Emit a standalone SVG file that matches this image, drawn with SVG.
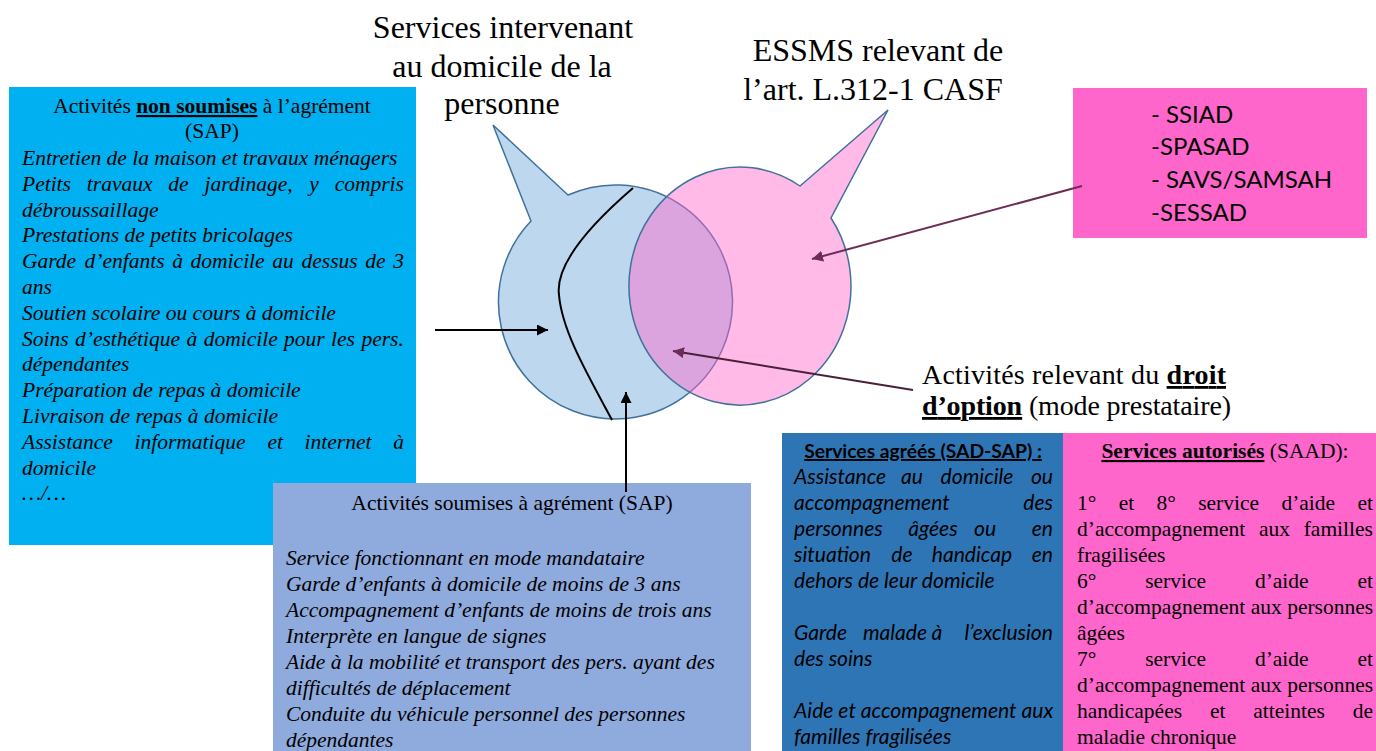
<svg xmlns="http://www.w3.org/2000/svg" width="1376" height="751" viewBox="0 0 1376 751">
<defs>
<style>
.serif{font-family:"Liberation Serif","Times New Roman",serif;fill:#000}
.it{font-style:italic}
.s21{font-size:21.5px}
.sans{font-family:Lato,"Liberation Sans",Arial,sans-serif;fill:#000}
.b{font-weight:bold}
.u{text-decoration:underline}
.end{text-anchor:end}
.mid{text-anchor:middle}
.shape{stroke:#41719C;stroke-width:1.5}
.conn{fill:none;stroke-width:2}
</style>
<marker id="ah" viewBox="0 0 10 10" refX="10" refY="5" markerWidth="11" markerHeight="11" markerUnits="userSpaceOnUse" orient="auto">
<path d="M0,0 L10,5 L0,10 z" fill="#000"/>
</marker>
<marker id="ahm" viewBox="0 0 10 10" refX="10" refY="5" markerWidth="11" markerHeight="11" markerUnits="userSpaceOnUse" orient="auto">
<path d="M0,0 L10,5 L0,10 z" fill="#6B2D55"/>
</marker>
</defs>
<rect width="1376" height="751" fill="#fff"/>

<g id="box-non-soumises">
<rect x="9" y="87" width="407" height="458" fill="#00B0F0"/>
<text class="serif s21" x="212" y="113" text-anchor="middle">Activités <tspan class="b u">non soumises</tspan> à l’agrément</text>
<text class="serif s21" x="212" y="138" text-anchor="middle">(SAP)</text>
<g class="serif s21 it">
<text x="22" y="165">Entretien de la maison et travaux ménagers</text>
<text y="190.8"><tspan x="22">Petits</tspan><tspan x="86.8">travaux</tspan><tspan x="168.3">de</tspan><tspan x="204.5">jardinage,</tspan><tspan x="309.3">y</tspan><tspan x="334.7">compris</tspan></text>
<text x="22" y="216.6">débroussaillage</text>
<text x="22" y="242.4">Prestations de petits bricolages</text>
<text y="268.2"><tspan x="22">Garde</tspan><tspan x="84.6">d’enfants</tspan><tspan x="172.2">à</tspan><tspan x="190.6">domicile</tspan><tspan x="272.3">au</tspan><tspan x="301.5">dessus</tspan><tspan x="365.3">de</tspan><tspan x="393.2">3</tspan></text>
<text x="22" y="294">ans</text>
<text x="22" y="319.8">Soutien scolaire ou cours à domicile</text>
<text y="345.6"><tspan x="22">Soins</tspan><tspan x="75">d’esthétique</tspan><tspan x="186.5">à</tspan><tspan x="203.7">domicile</tspan><tspan x="284.1">pour</tspan><tspan x="331.1">les</tspan><tspan x="361.4">pers.</tspan></text>
<text x="22" y="371.4">dépendantes</text>
<text x="22" y="397.2">Préparation de repas à domicile</text>
<text x="22" y="423">Livraison de repas à domicile</text>
<text y="448.8"><tspan x="22">Assistance</tspan><tspan x="134.5">informatique</tspan><tspan x="267.4">et</tspan><tspan x="304.6">internet</tspan><tspan x="393.3">à</tspan></text>
<text x="22" y="474.6">domicile</text>
<text x="22" y="500.4">…/…</text>
</g>
</g>

<g id="title-services">
<text class="serif" font-size="32" text-anchor="middle"><tspan x="503" y="38">Services intervenant</tspan><tspan x="502" y="77">au domicile de la</tspan><tspan x="502" y="114">personne</tspan></text>
</g>

<g id="title-essms">
<text class="serif" font-size="32" text-anchor="middle"><tspan x="878" y="61">ESSMS relevant de</tspan><tspan x="873" y="100">l’art. L.312-1 CASF</tspan></text>
</g>

<g id="venn-blue">
<path class="shape" fill="#BDD7EE" d="M568,195 L493,125 L531,221 A117,117 0 1 0 568,195 Z"/>
</g>
<g id="venn-pink">
<path class="shape" fill="#FF66CC" fill-opacity="0.45" d="M800,186 L888,110 L831,218 A111,119 0 1 1 800,186 Z"/>
</g>
<path id="divider" d="M633,188 C590,225 555,265 559,295 C562,330 585,370 612,420" fill="none" stroke="#000" stroke-width="2"/>

<g id="box-essms">
<rect x="1073" y="88" width="294" height="150" fill="#FF66CC"/>
<text class="sans" font-size="24"><tspan x="1151" y="123">- SSIAD</tspan><tspan x="1151" y="155">-SPASAD</tspan><tspan x="1151" y="188">- SAVS/SAMSAH</tspan><tspan x="1151" y="221">-SESSAD</tspan></text>
</g>

<g id="label-droit-option">
<text class="serif" font-size="28" x="922" y="384" textLength="304" lengthAdjust="spacing">Activités relevant du <tspan class="b u">droit</tspan></text>
<text class="serif" font-size="28" x="922" y="415" textLength="309" lengthAdjust="spacing"><tspan class="b u">d’option</tspan> (mode prestataire)</text>
</g>

<g id="box-soumises">
<rect x="273" y="483" width="478" height="268" fill="#8FAADC"/>
<text class="serif s21" x="512" y="510" text-anchor="middle">Activités  soumises à agrément (SAP)</text>
<g class="serif s21 it">
<text x="286" y="565">Service fonctionnant en mode mandataire</text>
<text x="286" y="591">Garde d’enfants à domicile de moins de 3 ans</text>
<text x="286" y="617">Accompagnement d’enfants de moins de trois ans</text>
<text x="286" y="643">Interprète en langue de signes</text>
<text x="286" y="669">Aide à la mobilité et transport des pers. ayant des</text>
<text x="286" y="695">difficultés de déplacement</text>
<text x="286" y="721">Conduite du véhicule personnel des personnes</text>
<text x="286" y="747">dépendantes</text>
</g>
</g>

<g id="box-agrees">
<rect x="782" y="433" width="281" height="318" fill="#2E75B6"/>
<text class="sans b u" font-size="19.3" x="923" y="458" text-anchor="middle">Services agréés (SAD-SAP) :</text>
<g class="sans it" font-size="21.1">
<text x="794" y="484">Assistance</text>
<text class="mid" x="912" y="484">au</text>
<text class="mid" x="977" y="484">domicile</text>
<text class="end" x="1053" y="484">ou</text>
<text x="794" y="510">accompagnement</text>
<text class="end" x="1053" y="510">des</text>
<text x="794" y="536">personnes</text>
<text class="mid" x="933" y="536">âgées</text>
<text class="mid" x="985" y="536">ou</text>
<text class="end" x="1053" y="536">en</text>
<text x="794" y="562">situation</text>
<text class="mid" x="902" y="562">de</text>
<text class="mid" x="972" y="562">handicap</text>
<text class="end" x="1053" y="562">en</text>
<text x="794" y="588">dehors de leur domicile</text>
<text x="794" y="640">Garde</text>
<text class="mid" x="895" y="640">malade</text>
<text class="mid" x="937" y="640">à</text>
<text class="end" x="1053" y="640">l’exclusion</text>
<text x="794" y="666">des soins</text>
<text x="794" y="718">Aide et accompagnement aux</text>
<text x="794" y="744">familles fragilisées</text>
</g>
</g>

<g id="box-autorises">
<rect x="1063" y="433" width="313" height="318" fill="#FF66CC"/>
<text class="serif s21" x="1225" y="458" text-anchor="middle"><tspan class="b u">Services autorisés</tspan> (SAAD):</text>
<g class="serif s21">
<text y="510"><tspan x="1077">1°</tspan><tspan x="1118.7">et</tspan><tspan x="1156.5">8°</tspan><tspan x="1198.2">service</tspan><tspan x="1281.4">d’aide</tspan><tspan x="1357.4">et</tspan></text>
<text y="536"><tspan x="1077">d’accompagnement</tspan><tspan x="1259">aux</tspan><tspan x="1303.7">familles</tspan></text>
<text x="1077" y="562">fragilisées</text>
<text y="588"><tspan x="1077">6°</tspan><tspan x="1145.2">service</tspan><tspan x="1254.9">d’aide</tspan><tspan x="1357.4">et</tspan></text>
<text x="1077" y="614">d’accompagnement aux personnes</text>
<text x="1077" y="640">âgées</text>
<text y="666"><tspan x="1077">7°</tspan><tspan x="1145.2">service</tspan><tspan x="1254.9">d’aide</tspan><tspan x="1357.4">et</tspan></text>
<text x="1077" y="692">d’accompagnement aux personnes</text>
<text y="718"><tspan x="1077">handicapées</tspan><tspan x="1209.9">et</tspan><tspan x="1253.2">atteintes</tspan><tspan x="1352.7">de</tspan></text>
<text x="1077" y="744">maladie chronique</text>
</g>
</g>

<g id="connectors">
<line class="conn" x1="435" y1="330" x2="548" y2="330" stroke="#000" marker-end="url(#ah)"/>
<line class="conn" x1="626" y1="492" x2="626" y2="392" stroke="#000" marker-end="url(#ah)"/>
<line class="conn" x1="1082" y1="186" x2="812" y2="259" stroke="#6B2D55" stroke-width="1.6" marker-end="url(#ahm)"/>
<line class="conn" x1="913" y1="390" x2="673" y2="351" stroke="#4A2038" stroke-width="1.6" marker-end="url(#ahm)"/>
</g>
</svg>
